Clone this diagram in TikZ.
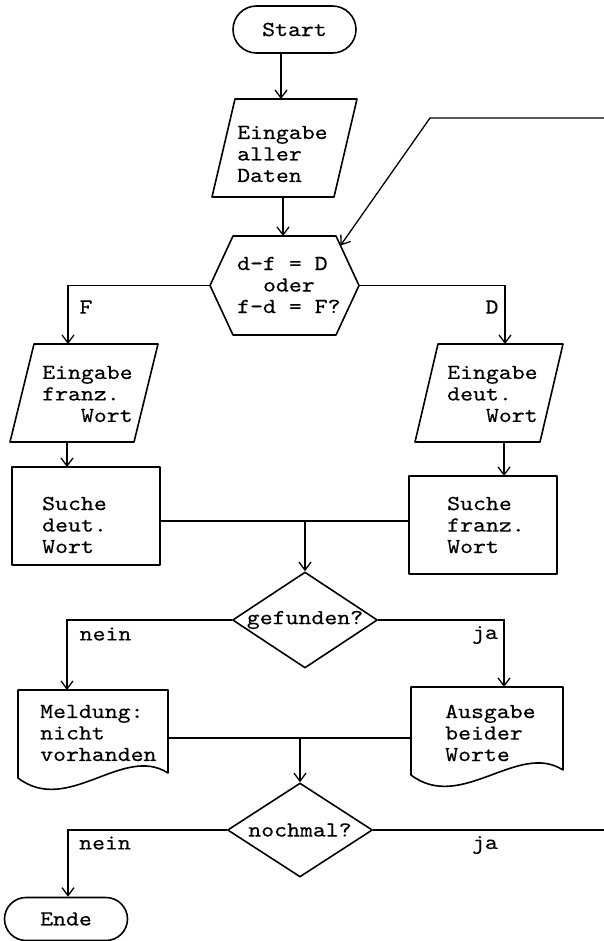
\documentclass[tikz,border=0pt]{standalone}
\usepackage{fontspec}
\newfontfamily\tw[Extension=.otf,FakeStretch=1.15,FakeBold=0.3]{lmmono10-regular}
\usetikzlibrary{arrows.meta,shapes.geometric}

\begin{document}
\begin{tikzpicture}[x=1pt,y=-1pt,
  tfont/.style={font=\tw\fontsize{21.4}{21.5}\selectfont},
  txt/.style={tfont,inner sep=0pt,align=left,anchor=west},
  lbl/.style={tfont,inner sep=0pt,anchor=center},
  shp/.style={draw=none,inner sep=0pt,outer sep=0pt},
  frame/.style={line width=1.6pt,line join=round},
  conn/.style={line width=1.3pt},
  arr/.style={conn,-{Straight Barb[length=8pt,width=12pt]}},
  term/.style={draw,frame,tfont,inner sep=0pt,minimum width=123pt},
  decide/.style={draw,frame,tfont,diamond,aspect=1.5,inner sep=0pt,minimum width=145pt}]

\useasboundingbox (0,0) rectangle (604,941);
\fill[white] (0,0) rectangle (604,941);

% ---- nodes ----
\node[term,minimum height=47pt,rounded corners=23.5pt] (st) at (294.5,29.5) {Start};

\node[shp,minimum width=145pt,minimum height=98pt] (in0) at (284.5,148) {};
\draw[frame] ([xshift=23pt]in0.north west) -- (in0.north east) -- ([xshift=-23pt]in0.south east) -- (in0.south west) -- cycle;
\node[txt] (t0) at (237,154) {Eingabe\\aller\\Daten};

\node[shp,minimum width=149pt,minimum height=99pt] (hx) at (284.5,285.5) {};
\draw[frame] (hx.west) -- ([xshift=23pt]hx.north west) -- ([xshift=-23pt]hx.north east) -- (hx.east) -- ([xshift=-23pt]hx.south east) -- ([xshift=23pt]hx.south west) -- cycle;
\node[txt] (thx) at (237,285) {d-f = D\\\phantom{xx}oder\\f-d = F?};

\node[shp,minimum width=148pt,minimum height=98pt] (in1) at (84,393) {};
\draw[frame] ([xshift=24pt]in1.north west) -- (in1.north east) -- ([xshift=-24pt]in1.south east) -- (in1.south west) -- cycle;
\node[txt] (t1) at (42,394) {Eingabe\\franz.\\\phantom{xxx}Wort};

\node[shp,minimum width=148pt,minimum height=98pt] (in2) at (489,393) {};
\draw[frame] ([xshift=23pt]in2.north west) -- (in2.north east) -- ([xshift=-23pt]in2.south east) -- (in2.south west) -- cycle;
\node[txt] (t2) at (447,394) {Eingabe\\deut.\\\phantom{xxx}Wort};

\node[shp,draw,frame,minimum width=148pt,minimum height=98pt] (r1) at (86,516) {};
\node[txt] (tr1) at (42,525) {Suche\\deut.\\Wort};

\node[shp,draw,frame,minimum width=148pt,minimum height=98pt] (r2) at (483,525) {};
\node[txt] (tr2) at (447,525) {Suche\\franz.\\Wort};

\node[decide,minimum height=96pt] (d1) at (305,620) {gefunden?};

\node[shp,minimum width=150pt,minimum height=88pt] (dc1) at (93,734) {};
\draw[frame] (dc1.north west) -- (dc1.north east) -- ([yshift=5pt]dc1.south east)
  .. controls ([xshift=-45pt,yshift=34pt]dc1.south east) and ([xshift=50pt,yshift=-38pt]dc1.south west) .. (dc1.south west) -- cycle;
\node[txt] (tdc1) at (40,733) {Meldung:\\nicht\\vorhanden};

\node[shp,minimum width=152pt,minimum height=88pt] (dc2) at (487,731) {};
\draw[frame] (dc2.north west) -- (dc2.north east) -- ([yshift=5pt]dc2.south east)
  .. controls ([xshift=-45pt,yshift=34pt]dc2.south east) and ([xshift=50pt,yshift=-38pt]dc2.south west) .. (dc2.south west) -- cycle;
\node[txt] (tdc2) at (445,733) {Ausgabe\\beider\\Worte};

\node[decide,minimum height=94pt] (d2) at (300,830) {nochmal?};

\node[term,minimum height=43pt,rounded corners=21.5pt] (en) at (66,919) {Ende};

% ---- connectors ----
\coordinate (lpA) at (604,118);
\coordinate (lpB) at (430,118);
\coordinate (mg1) at (305,521);
\coordinate (mg2) at (300,738);
\coordinate (rim) at (604,0);

\draw[arr] ([xshift=-13.5pt]st.south) -- ([xshift=-13.5pt]st.south |- in0.north);
\draw[arr] ([xshift=-1.5pt]in0.south) -- ([xshift=-1.5pt]in0.south |- hx.north);
\draw[arr] (lpA) -- (lpB) -- ([xshift=-18.5pt,yshift=-9.5pt]hx.north east);

\draw[arr] (hx.west) -| ([xshift=-16pt]in1.north);
\draw[arr] (hx.east) -| ([xshift=16pt]in2.north);
\node[lbl] (lF) at (86,307) {F};
\node[lbl] (lD) at (492,307) {D};

\draw[arr] ([xshift=-17pt]in1.south) -- ([xshift=-17pt]in1.south |- r1.north);
\draw[arr] ([xshift=15pt]in2.south) -- ([xshift=15pt]in2.south |- r2.north);

\draw[conn] (r1.east |- mg1) -- (r2.west |- mg1);
\draw[arr] (mg1) -- (d1.north);

\draw[arr] (d1.west) -| ([xshift=-26pt]dc1.north);
\draw[arr] (d1.east) -| ([xshift=17pt]dc2.north);
\node[lbl] (ln1) at (105.5,634) {nein};
\node[lbl] (lj1) at (485,635) {ja};

\draw[conn] (dc1.east |- mg2) -- (dc2.west |- mg2);
\draw[arr] (mg2) -- (d2.north);

\draw[arr] (d2.west) -| ([xshift=2pt]en.north);
\draw[conn] (d2.east) -- (d2.east -| rim);
\node[lbl] (ln2) at (105,843) {nein};
\node[lbl] (lj2) at (485,845) {ja};

\end{tikzpicture}
\end{document}
